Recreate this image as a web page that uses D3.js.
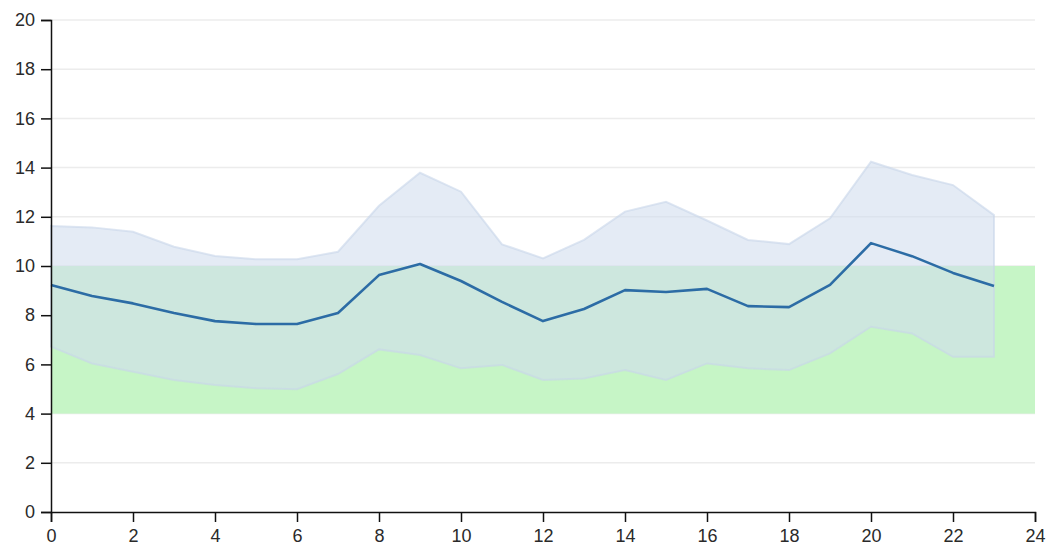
<!DOCTYPE html>
<html>
<head>
<meta charset="utf-8">
<script src="https://cdn.jsdelivr.net/npm/d3@7"></script>
<style>
  html, body { margin: 0; padding: 0; background: #fff; }
  svg { display: block; }
  .axis text { font-family: "Liberation Sans", Arial, sans-serif; font-size: 18px; fill: #2a2a2a; }
  .axis path, .axis line { stroke: #111; stroke-width: 1.5; }
</style>
</head>
<body>
<svg id="chart" width="1049" height="548"></svg>
<script>
// Hour of day
const hours = d3.range(0, 24);
// Hourly average reading
const meanValues = [9.23, 8.78, 8.48, 8.09, 7.76, 7.64, 7.64, 8.09, 9.63, 10.08,
                    9.39, 8.54, 7.76, 8.25, 9.02, 8.94, 9.07, 8.37, 8.33, 9.23,
                    10.93, 10.40, 9.72, 9.19];
// Upper bound of the hourly spread
const upperValues = [11.63, 11.57, 11.39, 10.78, 10.41, 10.27, 10.27, 10.58, 12.45, 13.79,
                     13.02, 10.88, 10.31, 11.06, 12.21, 12.61, 11.85, 11.06, 10.89, 11.94,
                     14.24, 13.70, 13.29, 12.07];
// Lower bound of the hourly spread
const lowerValues = [6.72, 6.04, 5.70, 5.37, 5.16, 5.03, 4.99, 5.61, 6.61, 6.38,
                     5.84, 5.98, 5.37, 5.43, 5.77, 5.37, 6.04, 5.84, 5.77, 6.45,
                     7.53, 7.26, 6.31, 6.31];
// Target range
const targetRange = [4, 10];
const xTicks = d3.range(0, 25, 2);
const yTicks = d3.range(0, 21, 2);

const svg = d3.select("#chart");
const margin = { top: 20, right: 14, bottom: 36, left: 51 };
const width = 1049 - margin.left - margin.right;
const height = 548 - margin.top - margin.bottom;

const g = svg.append("g").attr("transform", `translate(${margin.left},${margin.top})`);

const x = d3.scaleLinear().domain([0, 24]).range([0, width]);
const y = d3.scaleLinear().domain([0, 20]).range([height, 0]);

// Horizontal gridlines
g.append("g")
  .selectAll("line")
  .data(yTicks.filter(v => v > 0))
  .join("line")
  .attr("x1", 0).attr("x2", width)
  .attr("y1", d => y(d)).attr("y2", d => y(d))
  .attr("stroke", "#ececec")
  .attr("stroke-width", 1.5);

// Target band
g.append("rect")
  .attr("x", x(0))
  .attr("width", x(24) - x(0))
  .attr("y", y(targetRange[1]))
  .attr("height", y(targetRange[0]) - y(targetRange[1]))
  .attr("fill", "rgb(198,245,198)");

// Spread band
const rows = hours.map((h, i) => ({ h, lo: lowerValues[i], hi: upperValues[i], m: meanValues[i] }));
const area = d3.area()
  .x(d => x(d.h))
  .y0(d => y(d.lo))
  .y1(d => y(d.hi));
g.append("path")
  .datum(rows)
  .attr("d", area)
  .attr("fill", "rgb(210,222,238)")
  .attr("fill-opacity", 0.6)
  .attr("stroke", "rgb(200,214,234)")
  .attr("stroke-opacity", 0.6)
  .attr("stroke-width", 2);

// Mean line
const line = d3.line().x(d => x(d.h)).y(d => y(d.m));
g.append("path")
  .datum(rows)
  .attr("d", line)
  .attr("fill", "none")
  .attr("stroke", "#2c6ca5")
  .attr("stroke-width", 2.6)
  .attr("stroke-linejoin", "round");

// Axes
g.append("g")
  .attr("class", "axis")
  .attr("transform", `translate(0,${height})`)
  .call(d3.axisBottom(x).tickValues(xTicks).tickSize(10).tickPadding(7));

g.append("g")
  .attr("class", "axis")
  .call(d3.axisLeft(y).tickValues(yTicks).tickSize(10).tickPadding(6));
</script>
</body>
</html>
